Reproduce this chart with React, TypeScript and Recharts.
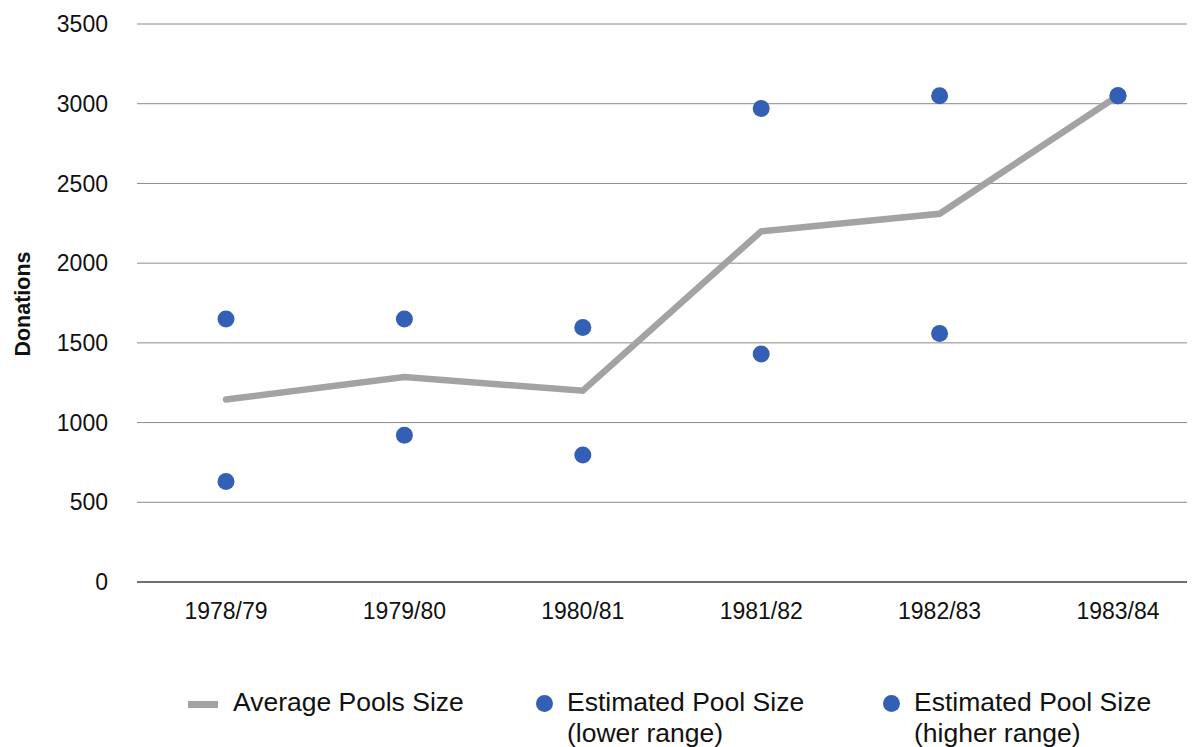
import React from 'react';
import { ComposedChart, Line, XAxis, YAxis, CartesianGrid, Legend } from 'recharts';

const seasons = ['1978/79', '1979/80', '1980/81', '1981/82', '1982/83', '1983/84'];
const averagePoolSize = [1145, 1285, 1200, 2200, 2310, 3050];
const lowerRange = [630, 920, 797, 1430, 1558, 3050];
const higherRange = [1650, 1650, 1597, 2970, 3050, 3050];
const yTicks = [0, 500, 1000, 1500, 2000, 2500, 3000, 3500];

const seriesNames = {
  avg: 'Average Pools Size',
  low: 'Estimated Pool Size (lower range)',
  high: 'Estimated Pool Size (higher range)',
};

const data = seasons.map((s, i) => ({
  season: s,
  avg: averagePoolSize[i],
  low: lowerRange[i],
  high: higherRange[i],
}));

const FONT = '"Liberation Sans", Arial, Helvetica, sans-serif';
const LINE_COLOR = '#a3a3a3';
const DOT_COLOR = '#335fb5';

const legendItems = [
  { key: 'avg', left: 180, kind: 'line', color: LINE_COLOR, textLeft: 45 },
  { key: 'low', left: 528, kind: 'dot', color: DOT_COLOR, textLeft: 31 },
  { key: 'high', left: 875, kind: 'dot', color: DOT_COLOR, textLeft: 31 },
];

const CustomLegend = () => (
  <div style={{ position: 'relative', height: 70, width: '100%', fontFamily: FONT }}>
    {legendItems.map((it) => (
      <div key={it.key} style={{ position: 'absolute', left: it.left, top: 0 }}>
        {it.kind === 'line' ? (
          <div
            style={{
              position: 'absolute',
              left: 0,
              top: 24,
              width: 30,
              height: 6.5,
              background: it.color,
            }}
          />
        ) : (
          <div
            style={{
              position: 'absolute',
              left: 0,
              top: 18,
              width: 17,
              height: 17,
              borderRadius: '50%',
              background: it.color,
            }}
          />
        )}
        <div
          style={{
            position: 'absolute',
            left: it.textLeft,
            top: 10,
            width: 255,
            fontSize: 26.5,
            lineHeight: '31px',
            color: '#111',
          }}
        >
          {(seriesNames as any)[it.key]}
        </div>
      </div>
    ))}
  </div>
);

const YLabel = (props: any) => {
  const vb = props.viewBox || { x: 0, y: 0, width: 0, height: 0 };
  const cx = 15;
  const cy = vb.y + vb.height / 2 + 1;
  return (
    <text
      x={cx}
      y={cy}
      transform={`rotate(-90, ${cx}, ${cy})`}
      textAnchor="middle"
      dominantBaseline="central"
      fontFamily={FONT}
      fontWeight="bold"
      fontSize={21.5}
      fill="#111"
    >
      Donations
    </text>
  );
};

export default function App() {
  return (
    <div style={{ width: 1187, height: 739, overflow: 'hidden', position: 'relative' }}>
      <ComposedChart
        width={1199}
        height={739}
        data={data}
        margin={{ top: 16, right: 0, left: 0, bottom: 0 }}
        style={{ fontFamily: FONT }}
      >
        <CartesianGrid vertical={false} stroke="#8a8a8a" strokeWidth={1} />
        <XAxis
          dataKey="season"
          type="category"
          height={95}
          padding={{ left: 89, right: 89 }}
          tickLine={false}
          tickSize={0}
          tickMargin={21}
          axisLine={{ stroke: '#555', strokeWidth: 1.5 }}
          tick={{ fontSize: 23, fill: '#111', fontFamily: FONT }}
          interval={0}
        />
        <YAxis
          width={129}
          domain={[0, 3500]}
          ticks={yTicks}
          tickLine={false}
          axisLine={false}
          tickSize={0}
          tickMargin={29}
          tick={{ fontSize: 23, fill: '#111', fontFamily: FONT }}
          label={<YLabel />}
        />
        <Legend verticalAlign="bottom" content={<CustomLegend />} />
        <Line
          type="linear"
          dataKey="avg"
          name={seriesNames.avg}
          stroke={LINE_COLOR}
          strokeWidth={6.5}
          strokeLinecap="round"
          dot={false}
          activeDot={false}
          isAnimationActive={false}
        />
        <Line
          type="linear"
          dataKey="low"
          name={seriesNames.low}
          stroke="none"
          strokeWidth={0}
          dot={{ r: 8.5, fill: DOT_COLOR, stroke: 'none', strokeWidth: 0 }}
          activeDot={false}
          isAnimationActive={false}
        />
        <Line
          type="linear"
          dataKey="high"
          name={seriesNames.high}
          stroke="none"
          strokeWidth={0}
          dot={{ r: 8.5, fill: DOT_COLOR, stroke: 'none', strokeWidth: 0 }}
          activeDot={false}
          isAnimationActive={false}
        />
      </ComposedChart>
    </div>
  );
}
